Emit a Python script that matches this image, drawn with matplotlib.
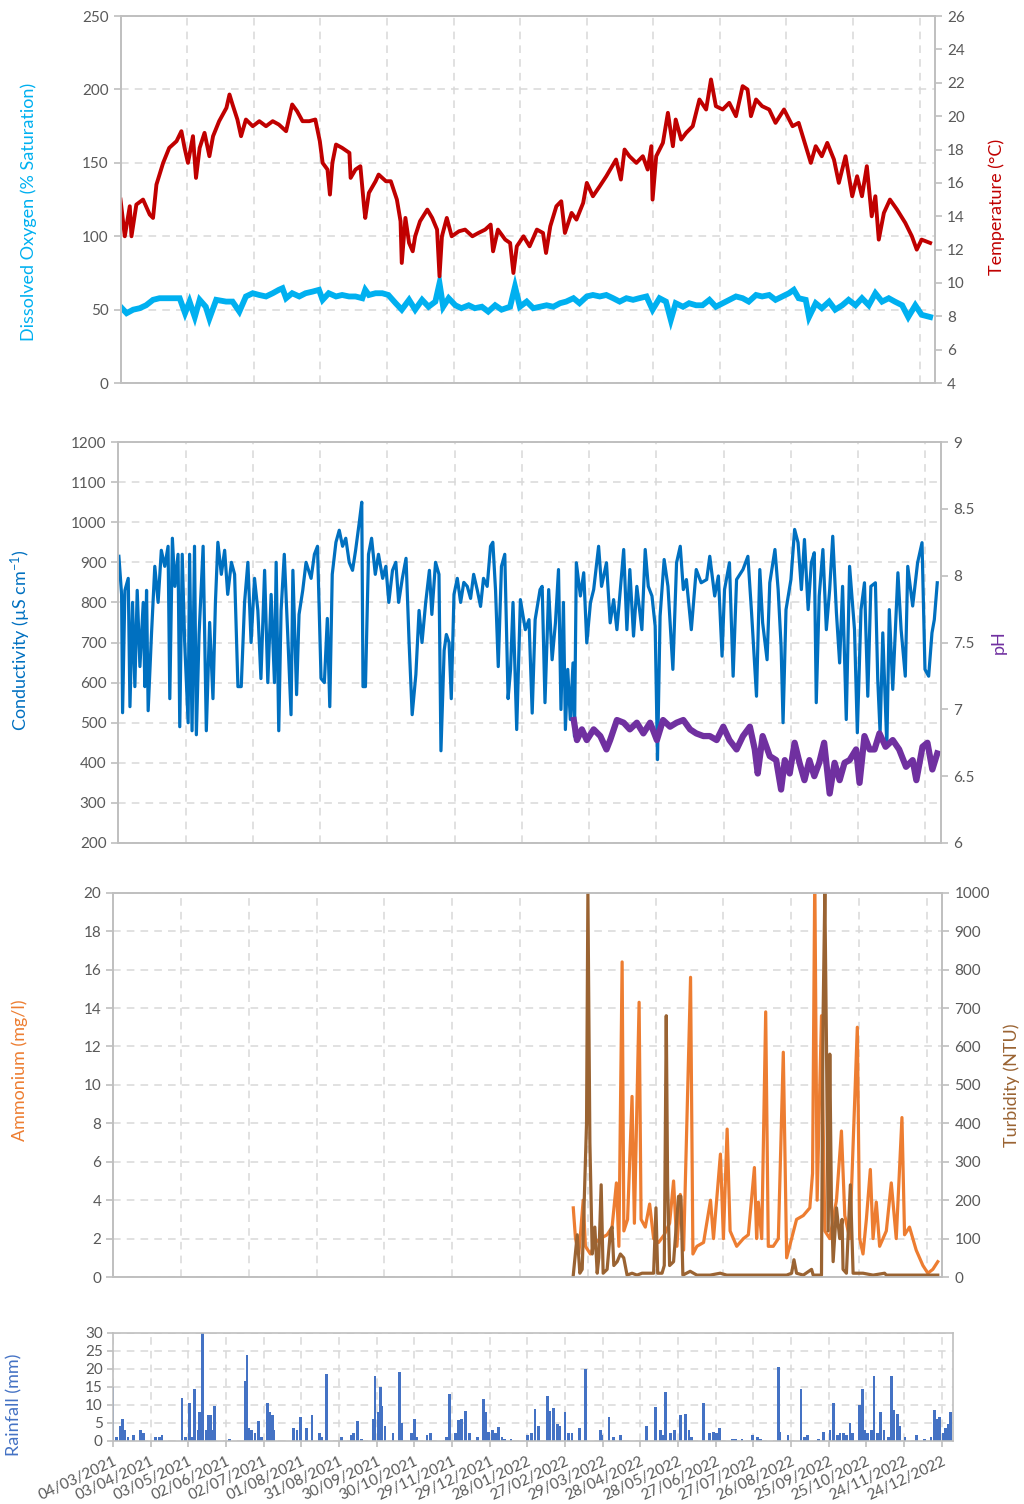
import matplotlib
matplotlib.use('Agg')
import matplotlib.pyplot as plt

''' 水質監測資料 (days since 04/03/2021) '''

# Temperature (°C)
temp_day = [0, 3.5, 7.6, 9, 13, 18.5, 24, 26.7, 29.5, 35, 40, 46, 50, 52.6, 55.4, 59.5, 62, 65, 69, 73,
            76, 81, 87, 89.5, 92, 96, 99, 103, 108.6, 114, 119.5, 125, 130, 136, 141, 145, 149.5, 155, 160, 163.7,
            166, 170, 172, 174, 177, 182, 188, 189, 193, 197, 200, 201, 204, 209.5, 212, 218, 222, 227, 230, 231,
            234, 237, 240, 242, 246, 252, 256, 260, 262, 264, 268, 272, 278, 283, 289, 294, 299.5, 304, 306, 310,
            316,
            320, 322.7, 325.5, 331, 336, 342, 347, 349.5, 353, 358, 362, 365, 370.5, 374.5, 380, 383, 388, 393.6, 399, 407,
            411, 414, 418, 423.7, 429, 433, 436, 437, 440, 445.5, 449.6, 453.7, 456, 460.5, 464.6, 470, 475.5, 481, 485, 489,
            494.6, 500, 505.5, 511, 515, 517.8, 522, 527, 532.8, 538, 545, 552, 557, 562.8, 567, 571, 576, 580.5, 586, 590,
            595.5, 601, 605, 609, 613, 617, 620, 622.8, 627, 632, 637.8, 644.6, 650, 654, 658, 665]
temp_c = [15.0, 12.8, 14.6, 12.8, 14.7, 15.0, 14.1, 13.9, 15.9, 17.2, 18.1, 18.5, 19.1, 18.1, 17.2, 18.8, 16.3, 18.1, 19.0, 17.6,
          18.8, 19.7, 20.5, 21.3, 20.7, 19.8, 18.8, 19.8, 19.4, 19.7, 19.4, 19.7, 19.5, 19.1, 20.7, 20.3, 19.7, 19.7, 19.8, 18.5,
          17.2, 16.8, 15.3, 17.2, 18.3, 18.1, 17.8, 16.3, 16.8, 17.0, 14.6, 13.9, 15.4, 16.1, 16.5, 16.1, 16.1, 15.0, 13.7, 11.2,
          13.9, 12.4, 11.9, 12.8, 13.7, 14.4, 13.9, 13.2, 10.4, 12.8, 13.9, 12.8, 13.1, 13.2, 12.8, 13.0, 13.2, 13.5, 11.9, 13.2,
          12.6,
          12.4, 10.6, 12.2, 12.8, 12.2, 13.2, 13.0, 11.8, 13.4, 14.6, 14.9, 13.0, 14.2, 13.8, 14.8, 16.0, 15.2, 15.8, 16.4, 17.4,
          16.2, 18.0, 17.6, 17.2, 17.6, 16.8, 18.2, 15.0, 17.6, 18.4, 20.2, 18.2, 19.8, 18.6, 19.0, 19.4, 21.0, 20.4, 22.2, 20.6,
          20.4, 20.8, 20.0, 21.8, 21.6, 20.0, 21.0, 20.6, 20.4, 19.6, 20.4, 19.4, 19.6, 18.2, 17.2, 18.2, 17.6, 18.4, 17.4, 16.0,
          17.6, 15.2, 16.4, 15.2, 17.0, 14.0, 15.2, 12.6, 14.2, 15.0, 14.4, 13.6, 12.8, 12.0, 12.6, 12.4]

# Dissolved oxygen (% saturation)
do_day = [0, 5, 10.4, 15.8, 21, 26.7, 32, 37.6, 43, 48.6, 53, 56.7, 61, 65, 70, 73, 78.6, 86.7, 92, 97.6,
          103, 108.6, 114, 119.5, 125, 130, 133, 136, 141, 146.8, 152, 157.7, 163, 166, 171, 177, 182, 187.7, 193, 198.6,
          201, 204, 209.5, 215, 220, 226, 231, 237, 242, 247.7, 253, 258.6, 262, 265, 269.5, 275, 280, 286, 291, 296.8,
          302, 307.7, 313,
          320, 324, 328, 333.6, 339, 344.5, 350, 355.5, 361, 366, 372, 377, 383, 388, 393.6, 399, 404.6, 410, 415.5, 421,
          426, 432, 437, 442.7, 448, 452, 456, 462, 467, 472.8, 478, 483.7, 489, 494.6, 500, 505.5, 511, 516, 522, 527,
          532.8, 538, 543.7, 549, 553, 557, 562.8, 565.5, 571, 576, 582, 587, 592.8, 598, 603.7, 609, 614.6, 620, 625.5, 631,
          636, 642, 647, 652.8, 658, 665]
do_sat = [52, 47.6, 50, 51, 53, 56.7, 57.8, 57.8, 57.8, 57.8, 47.6, 55.5, 45, 56.7, 52, 44, 56.7, 55.5, 55.5, 48.7,
          59, 61.2, 60, 59, 61.2, 63.5, 64.6, 57.8, 61.2, 59, 61.2, 62.3, 63.5, 56.7, 61.2, 59, 60, 59, 59, 57.8,
          63.5, 60, 61.2, 61.2, 60, 54.4, 50, 56.7, 50, 56.7, 52, 55.5, 68, 52, 57.8, 53, 51, 53, 51, 52,
          48.7, 53, 50,
          52, 65.7, 52, 55.5, 51, 52, 53, 52, 54.4, 55.5, 57.8, 54.4, 59, 60, 59, 60, 57.8, 55.5, 57.8, 56.7,
          57.8, 59, 50, 57.8, 55.5, 43, 54.4, 52, 54.4, 53, 53, 56.7, 52, 54.4, 56.7, 59, 57.8, 55.5, 60, 59,
          60, 56.7, 59, 61.2, 63.5, 57.8, 56.7, 45, 54.4, 51, 55.5, 50, 53, 56.7, 53, 57.8, 53, 61.2, 55.5, 57.8,
          55.5, 53, 45, 53, 46.5, 45]

# Conductivity (µS/cm)
cond_day = [0.5, 2.7, 3.5, 5.4, 8.1, 9.5, 11.6, 13.5, 15.4, 17.6, 20.3, 21.6, 23, 24.3, 27, 28.4, 29.7, 32.4, 35, 37.8,
            40.5, 41.9, 44, 46, 48.6, 50, 52, 54, 56.8, 58, 60, 62, 63.5, 65.7, 69, 71.6, 74.3, 77, 79, 81,
            83.8, 86.5, 89, 92, 94.6, 97.3, 100, 102.7, 105.4, 108, 110.8, 113.5, 116, 119, 121.6, 124.3, 127, 128.4, 130.5, 132.4,
            135, 137.8, 140.5, 142, 145, 147, 150, 152.7, 156.8, 159.5, 162, 164.9, 167.6, 170, 172, 174, 177, 179.7, 182.4, 185,
            187.8, 190.5, 193, 196, 198, 199, 201, 203.5, 206, 209, 211.6, 215, 217.6, 220, 223, 225.7, 228, 231, 234, 236.5,
            239, 242, 244.6, 247, 250, 253, 255, 258, 260.8, 262.4, 265, 266.8, 269, 270.8, 273, 275.7, 278.4, 281, 283.8, 286.5,
            289, 292, 294.6, 297, 300, 302.7, 304.6, 306.8, 309, 311.6, 314.3, 317,
            319, 321, 324, 327, 331, 334, 336.6, 339, 343, 344.7, 347, 350, 352.8, 355.5, 358, 360, 362, 363.6, 365.5, 367.6,
            369.8, 371, 372.5, 375.8, 378.5, 381, 384, 386.6, 390.6, 393, 397, 400, 402.8, 405.5, 411, 413.6, 416, 419, 421.7, 425.8,
            428.5, 431, 434, 436.6, 438.5, 440.6, 443.9, 447, 451, 454, 457, 459.5, 462, 466, 470, 474, 478.5, 481, 485, 488,
            491, 493, 497, 500, 502.8, 508, 512, 515, 519, 521.7, 524, 527.6, 529.8, 534, 536.6, 539, 540.6, 543, 547, 550,
            552.8, 555.5, 558, 561, 563.6, 566, 567.6, 570, 573, 575.8, 578.5, 581, 584, 586.6, 589, 592, 594.7, 598.7, 601, 604,
            606.8, 609.5, 612, 615.7, 617.6, 619.5, 621.7, 625, 627, 629.8, 634, 636.6, 640, 642, 646, 650, 653.6, 656, 659, 661.7,
            663.6, 666]
cond_us = [915, 820, 525, 830, 860, 540, 800, 590, 830, 640, 800, 590, 830, 530, 720, 810, 890, 800, 930, 890,
           940, 560, 960, 840, 920, 490, 920, 700, 500, 920, 480, 940, 470, 720, 940, 480, 750, 560, 800, 950,
           870, 930, 820, 900, 870, 590, 590, 800, 900, 700, 860, 780, 610, 880, 600, 820, 600, 900, 480, 780,
           920, 720, 520, 880, 570, 770, 830, 900, 860, 920, 940, 610, 600, 760, 540, 870, 950, 980, 940, 960,
           900, 880, 930, 1000, 1050, 590, 590, 920, 960, 870, 920, 860, 890, 800, 880, 900, 800, 860, 910, 700,
           520, 620, 780, 700, 800, 880, 770, 900, 870, 430, 680, 720, 700, 560, 820, 860, 800, 850, 840, 810,
           870, 830, 790, 860, 840, 940, 950, 830, 640, 890, 920, 560,
           633, 800, 483, 807, 732, 757, 524, 757, 832, 840, 550, 832, 657, 749, 882, 533, 800, 483, 633, 508,
           649, 466, 899, 816, 874, 699, 800, 832, 940, 840, 899, 749, 807, 732, 932, 732, 882, 716, 840, 732,
           932, 840, 816, 741, 408, 766, 907, 840, 633, 899, 940, 832, 857, 732, 882, 849, 857, 915, 816, 866,
           666, 832, 899, 616, 857, 882, 915, 774, 566, 882, 749, 657, 849, 932, 832, 691, 500, 782, 857, 982,
           949, 832, 957, 782, 899, 924, 550, 816, 932, 732, 832, 965, 774, 649, 840, 508, 890, 732, 475, 782,
           849, 566, 840, 849, 608, 475, 724, 441, 782, 583, 874, 732, 616, 890, 791, 899, 949, 633, 616, 724,
           757, 849]

# pH
ph_day = [370.4, 373, 377, 381, 386.6, 392, 397, 400, 405.5, 411, 416, 421.7, 427, 432.5, 438, 443, 448.7, 454, 459.5, 465,
          470, 475.8, 481, 486.6, 492, 497, 502.8, 508, 513.6, 517.6, 520, 524, 529.8, 535, 539, 542, 546, 550, 554, 558,
          562, 566, 570, 574, 578.5, 582.5, 586.6, 590.6, 594.7, 600, 602.8, 606.8, 611, 615, 619, 624, 629.8, 635, 640.6, 646,
          649, 654, 658, 662, 666]
ph_val = [6.92, 6.77, 6.85, 6.77, 6.85, 6.80, 6.70, 6.77, 6.92, 6.90, 6.85, 6.90, 6.82, 6.90, 6.77, 6.92, 6.87, 6.90, 6.92, 6.85,
          6.82, 6.80, 6.80, 6.77, 6.87, 6.77, 6.70, 6.80, 6.87, 6.70, 6.52, 6.80, 6.65, 6.62, 6.40, 6.62, 6.52, 6.75, 6.60, 6.47,
          6.62, 6.50, 6.60, 6.75, 6.37, 6.60, 6.47, 6.60, 6.62, 6.70, 6.45, 6.80, 6.70, 6.70, 6.82, 6.72, 6.77, 6.70, 6.57, 6.62,
          6.47, 6.72, 6.75, 6.55, 6.67]

# Ammonium (mg/l)
nh4_day = [371.2, 373, 375.7, 379.2, 381, 385, 389, 393, 398.5, 402.5, 406, 408, 410.6, 412, 415, 418.6, 420.5, 424.3, 425.9, 429.3,
           432.8, 436, 440, 444.6, 448.9, 452.1, 454.8, 457.5, 460.2, 465.8, 467.7, 470.9, 476.3, 481.9, 484.3, 489.9, 492.3, 495.3, 497.7, 503,
           508.4, 512.4, 517.3, 519.1, 520.5, 523.2, 526.4, 528.5, 532.5, 536.6, 540.6, 543.3, 547.3, 551.3, 556.7, 562, 564.2, 566, 567.9, 571.4,
           574.1, 578.1, 583.5, 587.5, 590.2, 594.2, 600.3, 602.2, 604.9, 607.6, 610.8, 613, 615.6, 618.3, 623.7, 627.7, 631.7, 636.3, 638.4, 642.4,
           647.8, 653.2, 657.2, 661.2, 665.2]
nh4_mg = [3.6, 2.0, 1.2, 4.0, 1.6, 1.2, 1.8, 2.0, 2.2, 2.6, 4.9, 1.6, 16.4, 2.4, 3.0, 9.4, 2.8, 14.3, 3.0, 2.6,
          3.8, 2.0, 1.8, 2.2, 2.8, 5.0, 1.6, 4.3, 1.4, 15.6, 1.2, 1.6, 1.8, 4.0, 2.0, 6.4, 2.0, 7.7, 2.4, 1.6,
          2.0, 2.2, 5.7, 2.0, 3.9, 2.0, 13.8, 1.6, 1.6, 2.0, 11.7, 1.0, 2.0, 3.0, 3.2, 3.6, 5.4, 21.0, 4.0, 13.6,
          2.4, 2.0, 4.0, 7.6, 3.2, 2.0, 13.0, 2.0, 1.2, 3.0, 5.6, 2.0, 3.9, 1.6, 2.4, 4.9, 2.0, 8.3, 2.2, 2.6,
          1.4, 0.6, 0.2, 0.4, 0.8]

# Turbidity (NTU)
turb_day = [371.2, 374.4, 376.5, 378.4, 381.9, 383, 384.6, 386.5, 388.6, 390.5, 391.8, 393.7, 395.3, 398.5, 401.2, 402.5, 403.9, 406.6, 409.2, 411.9,
            414.6, 418.6, 422.6, 426.7, 432, 436, 437.9, 439.3, 442.8, 444.6, 446.2, 447.3, 448.9, 452.1, 456.1, 458, 459.6, 465.5, 470.9, 481.6,
            489.7, 495, 508.4, 521.8, 535.2, 543.3, 547.3, 549.2, 551.3, 556.7, 563.4, 564.7, 571.4, 572.7, 574.1, 575.4, 576.8, 578.1, 579.4, 580.8,
            583.5, 586.1, 588, 588.8, 591.5, 594.7, 596.9, 604.9, 613, 622.3, 623.7, 642.4, 665.2]
turb_ntu = [5, 110, 10, 20, 400, 1000, 350, 60, 130, 10, 50, 240, 10, 20, 120, 130, 30, 40, 60, 50,
            5, 10, 5, 10, 10, 10, 180, 10, 10, 30, 680, 240, 30, 40, 210, 210, 5, 15, 5, 5,
            10, 5, 5, 5, 5, 5, 10, 45, 10, 5, 20, 5, 5, 680, 1000, 610, 120, 580, 200, 40,
            180, 100, 150, 20, 10, 240, 10, 10, 5, 10, 5, 5, 5]

# Rainfall (mm)
rain_day = [0, 3, 5.7, 7.3, 9.3, 12, 16, 22, 24, 34, 37, 39, 55, 57.5, 61, 62.7, 65, 68, 69, 71,
            74, 75.6, 77.7, 80, 81, 93, 105, 106.7, 108, 110, 113, 116, 118, 123, 125, 127, 128, 144, 146.6, 149,
            154, 158.5, 164.7, 166, 170, 182, 189.5, 191.6, 194.7, 198, 207, 208.7, 211, 213, 214, 216.5, 223, 228, 230, 238,
            240, 242, 250, 252.7, 265.7, 268, 273, 275, 277.6, 280.7, 283.8, 290, 295, 296.7, 299, 302, 304.5, 307, 309.7, 312,
            317, 330, 333, 336, 338.7, 346, 348, 351, 353.7, 356, 360, 363, 365.6, 371.8, 376, 388, 389.4, 395, 398.8, 404,
            425, 432, 436, 438, 440, 444, 447, 452, 455.7, 458.8, 461, 470, 475, 478, 480.6, 483, 493.5, 496, 501, 509,
            513, 515.8, 530, 531, 537.5, 548, 551, 553, 562, 566, 571, 574, 577, 579, 581.6, 584, 587, 589, 594.5, 596.6,
            598.6, 601, 604, 606, 609, 611, 614, 617.8, 620, 622, 624.5, 626.6, 630.8, 640, 646, 651.5, 654, 656.6, 658, 661,
            663, 665, 667]
rain_mm = [15, 1, 4, 6, 3, 1, 1.5, 3, 2, 1, 1, 1.5, 12, 1, 10.5, 1, 14.5, 3, 8, 30,
           3, 7, 7, 3, 9.5, 0.5, 16.5, 24, 3.5, 3, 2, 5.5, 1, 10.5, 8, 7, 3, 3.5, 3, 6.5,
           3.5, 7.2, 2, 1, 18.5, 1, 1.5, 2, 5.5, 0.5, 6, 18, 8, 15, 9.5, 4, 2, 19, 5, 2,
           6, 1, 1.5, 2, 1, 13, 2, 5.8, 6, 8.3, 2, 1, 11.5, 8, 2.5, 3, 2, 3.8, 1, 0.5,
           0.5, 1.5, 2, 8.8, 4, 12.3, 8.3, 9, 4.5, 4, 8, 2, 2, 3.5, 20, 3, 1.5, 6.5, 1, 1.5,
           4, 9.3, 3, 1.5, 13.5, 2, 3, 7, 7.5, 3, 1, 10.5, 2, 2.5, 2, 3.5, 0.5, 0.5, 0.5, 1.5,
           1, 0.5, 20.5, 2.5, 1.5, 14.5, 1, 1.5, 0.5, 2.5, 3, 10.5, 1.5, 2, 2, 1.5, 5, 2, 10, 14.5,
           3, 2, 3, 18, 2, 8, 3, 1, 18, 8.5, 7.5, 4, 1, 1.5, 0.5, 1, 8.5, 6, 6.5, 2,
           3.5, 4.5, 8]

date_labels = ['04/03/2021', '03/04/2021', '03/05/2021', '02/06/2021', '02/07/2021', '01/08/2021',
               '31/08/2021', '30/09/2021', '30/10/2021', '29/11/2021', '29/12/2021', '28/01/2022',
               '27/02/2022', '29/03/2022', '28/04/2022', '28/05/2022', '27/06/2022', '27/07/2022',
               '26/08/2022', '25/09/2022', '25/10/2022', '24/11/2022', '24/12/2022']

'''樣式'''
plt.rcParams['font.family'] = ['Lato', 'DejaVu Sans']
plt.rcParams['mathtext.fontset'] = 'custom'
plt.rcParams['mathtext.rm'] = 'Lato'
plt.rcParams['mathtext.it'] = 'Lato:italic'

TICK_C = '#595959'
SPINE_C = '#BFBFBF'
GRID_C = '#D9D9D9'
DASH = (0, (5, 4))
X_MAX = 669
GRID_STEP = 54.7
FS = 11
LFS = 13

fig = plt.figure(figsize=(10.24, 15.04), dpi=100)


def style(ax, ax2):
    ax.set_xlim(0, X_MAX)
    ax.set_xticks([GRID_STEP * k for k in range(1, 13)])
    ax.set_xticklabels([])
    ax.tick_params(axis='x', length=0)
    ax.set_axisbelow(True)
    ax.grid(True, color=GRID_C, linestyle=DASH, linewidth=1.1)
    for a in (ax, ax2):
        for s in a.spines.values():
            s.set_color(SPINE_C)
            s.set_linewidth(1.2)
        a.tick_params(axis='y', colors=SPINE_C, labelcolor=TICK_C, labelsize=FS, length=5, width=1.2)


# 面板 1: 溶氧 + 溫度
ax1 = fig.add_axes([0.1177, 0.7453, 0.7954, 0.244])
ax1b = ax1.twinx()
ax1.plot(do_day, do_sat, color='#00B0F0', lw=4.2, solid_joinstyle='miter')
ax1b.plot(temp_day, temp_c, color='#C00000', lw=2.8)
ax1.set_ylim(0, 250)
ax1.set_yticks(range(0, 251, 50))
ax1b.set_ylim(4, 26)
ax1b.set_yticks(range(4, 27, 2))
style(ax1, ax1b)
ax1.set_ylabel('Dissolved Oxygen (% Saturation)', color='#00B0F0', fontsize=LFS)
ax1.yaxis.set_label_coords(-0.1025, 0.466)
ax1b.set_ylabel('Temperature (°C)', color='#C00000', fontsize=LFS)
ax1b.yaxis.set_label_coords(1.065, 0.48)

# 面板 2: 電導度 + pH
ax2 = fig.add_axes([0.1155, 0.4395, 0.8034, 0.2666])
ax2b = ax2.twinx()
ax2.plot(cond_day, cond_us, color='#0070C0', lw=2.3)
ax2b.plot(ph_day, ph_val, color='#7030A0', lw=4.5)
ax2.set_ylim(200, 1200)
ax2.set_yticks(range(200, 1201, 100))
ax2b.set_ylim(6, 9)
ax2b.set_yticks([6, 6.5, 7, 7.5, 8, 8.5, 9])
ax2b.set_yticklabels(['6', '6.5', '7', '7.5', '8', '8.5', '9'])
style(ax2, ax2b)
ax2.set_ylabel('Conductivity (µS cm$^{-1}$)', color='#0070C0', fontsize=LFS)
ax2.yaxis.set_label_coords(-0.1037, 0.506)
ax2b.set_ylabel('pH', color='#7030A0', fontsize=LFS)
ax2b.yaxis.set_label_coords(1.06, 0.5)

# 面板 3: 氨氮 + 濁度
ax3 = fig.add_axes([0.1104, 0.1509, 0.8100, 0.2555])
ax3b = ax3.twinx()
ax3.plot(nh4_day, nh4_mg, color='#ED7D31', lw=2.3)
ax3b.plot(turb_day, turb_ntu, color='#9A6332', lw=2.3)
ax3.set_ylim(0, 20)
ax3.set_yticks(range(0, 21, 2))
ax3b.set_ylim(0, 1000)
ax3b.set_yticks(range(0, 1001, 100))
style(ax3, ax3b)
ax3.set_ylabel('Ammonium (mg/l)', color='#ED7D31', fontsize=LFS)
ax3.yaxis.set_label_coords(-0.1025, 0.539)
ax3b.set_ylabel('Turbidity (NTU)', color='#9A6332', fontsize=LFS)
ax3b.yaxis.set_label_coords(1.073, 0.5)

# 面板 4: 雨量
ax4 = fig.add_axes([0.1104, 0.0422, 0.8203, 0.0715])
ax4.bar(rain_day, rain_mm, width=2.2, color='#4472C4', linewidth=0)
ax4.set_xlim(0, X_MAX)
ax4.set_ylim(0, 30)
ax4.set_yticks(range(0, 31, 5))
ax4.set_xticks([30 * i for i in range(len(date_labels))])
ax4.set_xticklabels(date_labels, rotation=25, ha='right', rotation_mode='anchor')
ax4.set_axisbelow(True)
ax4.grid(True, color=GRID_C, linestyle=DASH, linewidth=1.1)
for s in ax4.spines.values():
    s.set_color(SPINE_C)
    s.set_linewidth(1.2)
ax4.tick_params(axis='both', colors=SPINE_C, labelcolor=TICK_C, labelsize=FS, length=4, width=1.2)
ax4.tick_params(axis='x', pad=6)
ax4.set_ylabel('Rainfall (mm)', color='#4472C4', fontsize=LFS)
ax4.yaxis.set_label_coords(-0.108, 0.33)

fig.savefig('out.png', dpi=100)
